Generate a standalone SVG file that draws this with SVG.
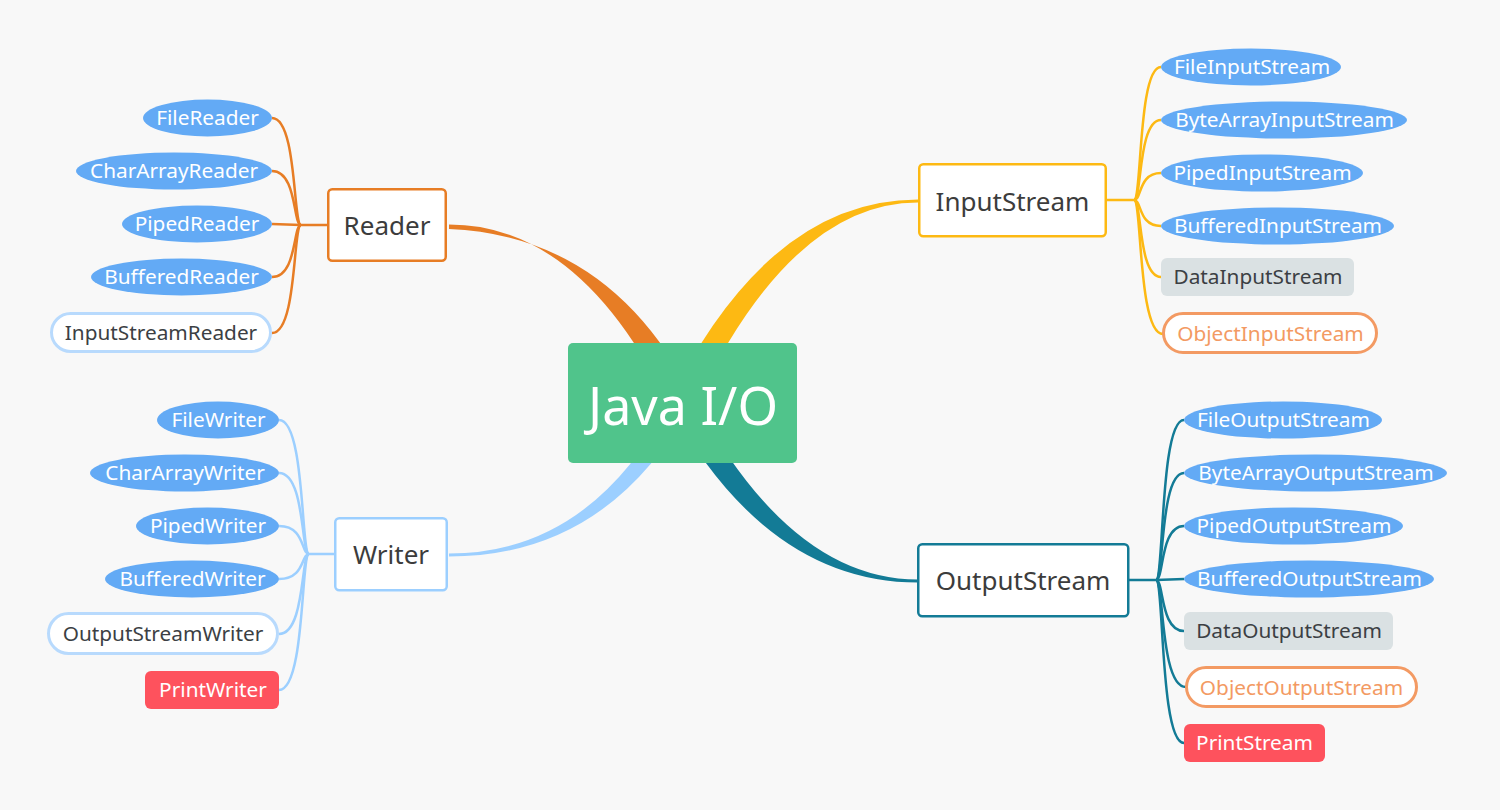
<svg xmlns="http://www.w3.org/2000/svg" width="1500" height="810" viewBox="0 0 1500 810">
<style>
text{font-family:"Noto Sans","Open Sans","Liberation Sans",sans-serif;text-anchor:middle}
.ell{fill:#63aaf5}
.wt{fill:#ffffff;font-size:20.8px}
.dk{fill:#3c3f44;font-size:20.8px}
.box{fill:#ffffff;stroke-width:2.5}
.bt{fill:#3c3c3c;font-size:26px}
.gray{fill:#dae1e3}
.red{fill:#fe525d}
.pillb{fill:#ffffff;stroke:#b8dafd;stroke-width:3}
.pillo{fill:#ffffff;stroke:#f39a63;stroke-width:3}
.ot{fill:#f39a63;font-size:20.8px}
.c{fill:none;stroke-width:2.5}
.or{stroke:#e77d25}.ye{stroke:#fdb913}.lb{stroke:#9ccfff}.te{stroke:#137b96}
</style>
<rect width="1500" height="810" fill="#f8f8f8"/>
<g id="connectors">
  <path d="M449,224.5 Q580,224.5 668,403 L696,403 Q614,236 449,229 Z" fill="#e77d25"/>
  <path d="M918,199.5 Q768,199.5 668,403 L696,403 Q792,202.5 918,202.5 Z" fill="#fdb913"/>
  <path d="M449,553.5 Q590,553.5 670,403 L692,403 Q608,556.5 449,556.5 Z" fill="#9ccfff"/>
  <path d="M918,582.5 Q766,582.5 668,403 L696,403 Q792,579.5 918,579.5 Z" fill="#137b96"/>
  <g class="c or">
    <path d="M328,225 L301,225"/>
    <path d="M301,225 C293,225 297,118 272,118"/>
    <path d="M301,225 C293,225 297,171 272,171"/>
    <path d="M301,225 L272,224"/>
    <path d="M301,225 C293,225 297,277 272,277"/>
    <path d="M301,225 C293,225 297,333 272,333"/>
  </g>
  <g class="c ye">
    <path d="M1106,200 L1134,200"/>
    <path d="M1134,200 C1142,200 1138,67 1161,67"/>
    <path d="M1134,200 C1142,200 1138,120 1161,120"/>
    <path d="M1134,200 C1142,200 1138,173 1161,173"/>
    <path d="M1134,200 C1142,200 1138,226 1161,226"/>
    <path d="M1134,200 C1142,200 1138,277 1161,277"/>
    <path d="M1134,200 C1142,200 1138,334 1163,334"/>
  </g>
  <g class="c lb">
    <path d="M335,554 L309,554"/>
    <path d="M309,554 C301,554 305,420 279,420"/>
    <path d="M309,554 C301,554 305,473 279,473"/>
    <path d="M309,554 C301,554 305,526 279,526"/>
    <path d="M309,554 C301,554 305,579 279,579"/>
    <path d="M309,554 C301,554 305,634 279,634"/>
    <path d="M309,554 C301,554 305,690 279,690"/>
  </g>
  <g class="c te">
    <path d="M1129,580 L1156,580"/>
    <path d="M1156,580 C1164,580 1160,420 1184,420"/>
    <path d="M1156,580 C1164,580 1160,473 1184,473"/>
    <path d="M1156,580 C1164,580 1160,526 1184,526"/>
    <path d="M1156,580 L1184,579"/>
    <path d="M1156,580 C1164,580 1160,631 1184,631"/>
    <path d="M1156,580 C1164,580 1160,687 1186,687"/>
    <path d="M1156,580 C1164,580 1160,743 1184,743"/>
  </g>
</g>
<g id="center">
  <rect x="568" y="343" width="229" height="120" rx="5" fill="#50c48b"/>
  <text x="683" y="425" fill="#ffffff" font-size="52">Java I/O</text>
</g>
<g id="reader">
  <rect class="box" x="328.25" y="189.25" width="117.5" height="71.5" rx="4" stroke="#e77d25"/>
  <text class="bt" x="387" y="235">Reader</text>
</g>
<g id="inputstream">
  <rect class="box" x="919.25" y="164.25" width="186.5" height="72" rx="4" stroke="#fdb913"/>
  <text class="bt" x="1012.5" y="211">InputStream</text>
</g>
<g id="writer">
  <rect class="box" x="335.25" y="518.25" width="111.5" height="72" rx="4" stroke="#9ccfff"/>
  <text class="bt" x="391" y="564">Writer</text>
</g>
<g id="outputstream">
  <rect class="box" x="918.25" y="544.25" width="210" height="72" rx="4" stroke="#137b96"/>
  <text class="bt" x="1023" y="590">OutputStream</text>
</g>
<g id="filereader"><ellipse class="ell" cx="207.5" cy="118" rx="64.5" ry="18.5"/><text class="wt" x="207.5" y="125">FileReader</text></g>
<g id="chararrayreader"><ellipse class="ell" cx="174" cy="171" rx="98" ry="18.5"/><text class="wt" x="174" y="178">CharArrayReader</text></g>
<g id="pipedreader"><ellipse class="ell" cx="197" cy="224" rx="75" ry="18.5"/><text class="wt" x="197" y="231">PipedReader</text></g>
<g id="bufferedreader"><ellipse class="ell" cx="181.5" cy="277" rx="90.5" ry="18.5"/><text class="wt" x="181.5" y="284">BufferedReader</text></g>
<g id="inputstreamreader"><rect class="pillb" x="51.5" y="313.5" width="219" height="38" rx="19"/><text class="dk" x="161" y="340">InputStreamReader</text></g>
<g id="fileinputstream"><ellipse class="ell" cx="1251" cy="67" rx="90" ry="18.5"/><text class="wt" x="1252" y="74">FileInputStream</text></g>
<g id="bytearrayinputstream"><ellipse class="ell" cx="1284" cy="120" rx="123" ry="18.5"/><text class="wt" x="1284.5" y="127">ByteArrayInputStream</text></g>
<g id="pipedinputstream"><ellipse class="ell" cx="1262" cy="173" rx="101" ry="18.5"/><text class="wt" x="1262.5" y="180">PipedInputStream</text></g>
<g id="bufferedinputstream"><ellipse class="ell" cx="1277.5" cy="226" rx="116.5" ry="18.5"/><text class="wt" x="1278" y="233">BufferedInputStream</text></g>
<g id="datainputstream"><rect class="gray" x="1161" y="258" width="193" height="38" rx="6"/><text class="dk" x="1258" y="284">DataInputStream</text></g>
<g id="objectinputstream"><rect class="pillo" x="1163.5" y="313.5" width="213" height="39" rx="19.5"/><text class="ot" x="1270.5" y="341">ObjectInputStream</text></g>
<g id="filewriter"><ellipse class="ell" cx="218" cy="420" rx="61" ry="18.5"/><text class="wt" x="218.5" y="427">FileWriter</text></g>
<g id="chararraywriter"><ellipse class="ell" cx="184.5" cy="473" rx="94.5" ry="18.5"/><text class="wt" x="185" y="480">CharArrayWriter</text></g>
<g id="pipedwriter"><ellipse class="ell" cx="207.5" cy="526" rx="71.5" ry="18.5"/><text class="wt" x="208" y="533">PipedWriter</text></g>
<g id="bufferedwriter"><ellipse class="ell" cx="192" cy="579" rx="87" ry="18.5"/><text class="wt" x="192.5" y="586">BufferedWriter</text></g>
<g id="outputstreamwriter"><rect class="pillb" x="48.5" y="613.5" width="229" height="40" rx="20"/><text class="dk" x="163" y="641">OutputStreamWriter</text></g>
<g id="printwriter"><rect class="red" x="145" y="671" width="134" height="38" rx="6"/><text class="wt" x="213" y="697">PrintWriter</text></g>
<g id="fileoutputstream"><ellipse class="ell" cx="1283" cy="420" rx="99" ry="18.5"/><text class="wt" x="1283.5" y="427">FileOutputStream</text></g>
<g id="bytearrayoutputstream"><ellipse class="ell" cx="1315.5" cy="473" rx="131.5" ry="18.5"/><text class="wt" x="1316" y="480">ByteArrayOutputStream</text></g>
<g id="pipedoutputstream"><ellipse class="ell" cx="1293.5" cy="526" rx="109.5" ry="18.5"/><text class="wt" x="1294" y="533">PipedOutputStream</text></g>
<g id="bufferedoutputstream"><ellipse class="ell" cx="1309" cy="579" rx="125" ry="18.5"/><text class="wt" x="1309.5" y="586">BufferedOutputStream</text></g>
<g id="dataoutputstream"><rect class="gray" x="1184" y="612" width="209" height="38" rx="6"/><text class="dk" x="1289" y="638">DataOutputStream</text></g>
<g id="objectoutputstream"><rect class="pillo" x="1186.5" y="667.5" width="230" height="39" rx="19.5"/><text class="ot" x="1301.5" y="695">ObjectOutputStream</text></g>
<g id="printstream"><rect class="red" x="1184" y="724" width="141" height="38" rx="6"/><text class="wt" x="1254.5" y="750">PrintStream</text></g>
</svg>
